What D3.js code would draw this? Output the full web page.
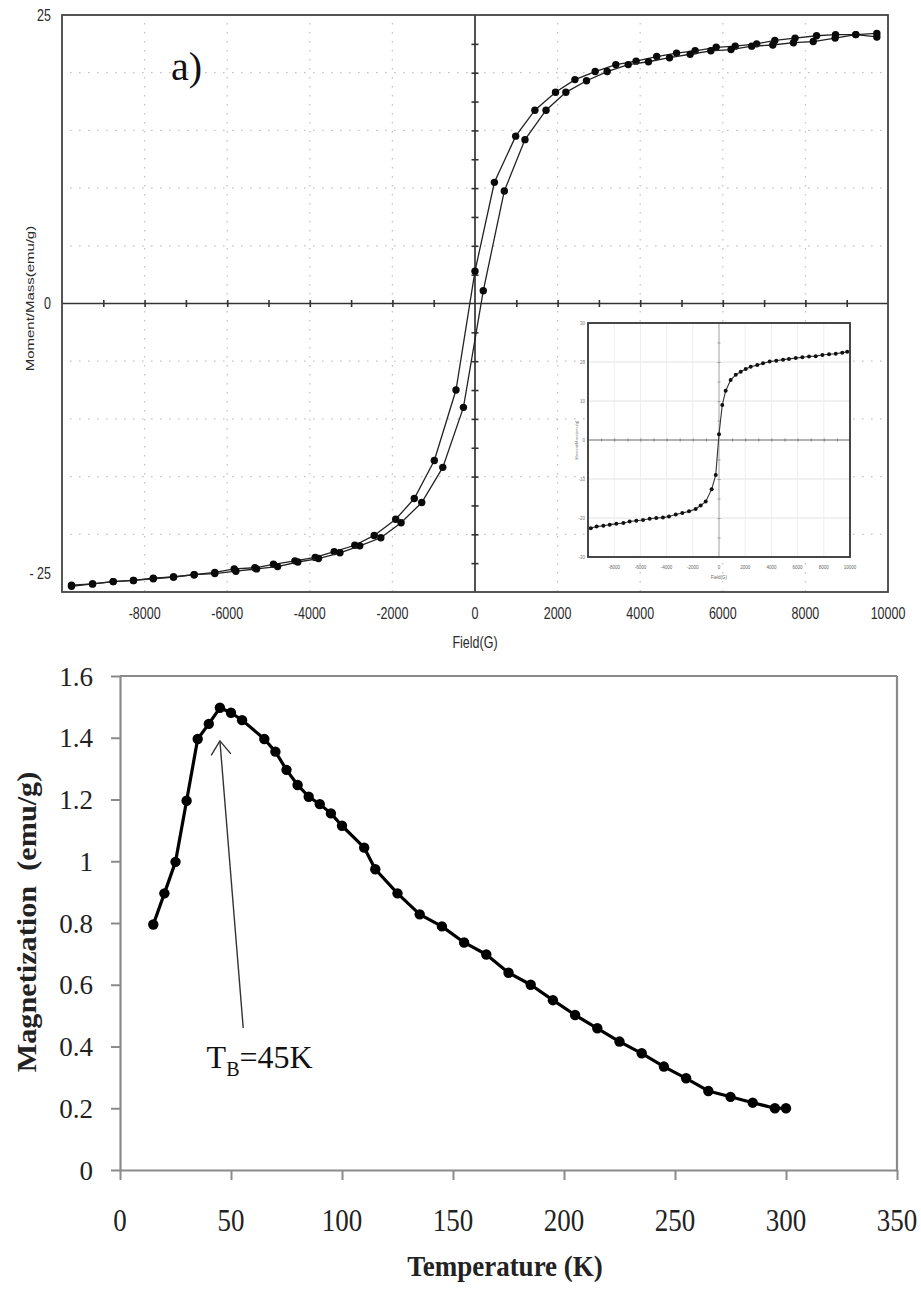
<!DOCTYPE html>
<html><head><meta charset="utf-8">
<script src="https://cdn.jsdelivr.net/npm/d3@7"></script>
<style>
html,body{margin:0;padding:0;background:#fff;}
svg{display:block;}
</style></head><body>
<svg id="chart" width="921" height="1290"></svg>
<script>
// ================= DATA: panel a) hysteresis loop =================
// descending branch (from +saturation to -saturation)
const descField  = [9730, 9220, 8730, 8270, 7750, 7260, 6820, 6300, 5840, 5330, 4880, 4400, 3900, 3410, 2910, 2420, 1950, 1450, 985, 470, 0, -460, -985, -1470, -1920, -2440, -2910, -3410, -3870, -4360, -4880, -5330, -5830, -6300, -6800, -7300, -7790, -8270, -8760, -9260, -9770];
const descMoment = [23.4, 23.3, 23.3, 23.2, 23.0, 22.8, 22.5, 22.3, 22.2, 21.9, 21.7, 21.4, 21.0, 20.7, 20.1, 19.4, 18.3, 16.75, 14.5, 10.5, 2.8, -7.5, -13.6, -16.9, -18.7, -20.1, -20.95, -21.5, -22.0, -22.3, -22.6, -22.9, -23.0, -23.3, -23.5, -23.7, -23.8, -24.0, -24.1, -24.3, -24.4];
// ascending branch (from -saturation to +saturation)
const ascField  = [-9770, -9260, -8760, -8270, -7790, -7300, -6800, -6300, -5790, -5290, -4780, -4290, -3790, -3270, -2790, -2280, -1790, -1290, -780, -280, 200, 710, 1210, 1720, 2200, 2700, 3200, 3710, 4200, 4710, 5210, 5710, 6200, 6700, 7210, 7710, 8190, 8720, 9220, 9730];
const ascMoment = [-24.5, -24.3, -24.1, -24.0, -23.85, -23.7, -23.5, -23.4, -23.2, -23.0, -22.8, -22.4, -22.1, -21.6, -21.0, -20.3, -19.0, -17.25, -14.2, -9.0, 1.1, 9.75, 14.2, 16.75, 18.3, 19.3, 20.1, 20.7, 20.95, 21.3, 21.6, 21.9, 22.0, 22.3, 22.4, 22.6, 22.7, 23.0, 23.3, 23.1];
// inset curve
const insetField  = [-9790, -9340, -8830, -8340, -7840, -7300, -6820, -6310, -5800, -5290, -4790, -4280, -3820, -3300, -2800, -2290, -1780, -1400, -1015, -560, -250, 0, 250, 510, 890, 1280, 1660, 2040, 2420, 2920, 3360, 3870, 4370, 4890, 5340, 5860, 6360, 6870, 7380, 7890, 8400, 8910, 9410, 9790];
const insetMoment = [-22.6, -22.2, -22.0, -21.7, -21.5, -21.3, -20.9, -20.7, -20.5, -20.2, -20.0, -19.9, -19.6, -19.1, -18.7, -18.3, -17.7, -16.8, -15.8, -12.6, -9.0, 1.5, 9.0, 12.6, 15.4, 16.7, 17.5, 18.2, 18.8, 19.2, 19.7, 20.1, 20.3, 20.6, 20.8, 21.0, 21.2, 21.4, 21.5, 21.8, 22.0, 22.1, 22.4, 22.6];
const topXTicks = [-8000, -6000, -4000, -2000, 0, 2000, 4000, 6000, 8000, 10000];
const topYTicks = [25, 0, -25];
const topYTickLabels = ["25", "0", "- 25"];
const insetXTicks = [-8000, -6000, -4000, -2000, 0, 2000, 4000, 6000, 8000, 10000];
const insetYTicks = [30, 20, 10, 0, -10, -20, -30];

// ================= DATA: M vs T =================
const temps  = [15, 20, 25, 30, 35, 40, 45, 50, 55, 65, 70, 75, 80, 85, 90, 95, 100, 110, 115, 125, 135, 145, 155, 165, 175, 185, 195, 205, 215, 225, 235, 245, 255, 265, 275, 285, 295, 300];
const magnet = [0.795, 0.896, 0.998, 1.196, 1.396, 1.445, 1.497, 1.481, 1.457, 1.396, 1.355, 1.296, 1.247, 1.209, 1.185, 1.155, 1.115, 1.044, 0.974, 0.896, 0.828, 0.789, 0.737, 0.698, 0.639, 0.600, 0.550, 0.502, 0.459, 0.416, 0.378, 0.335, 0.297, 0.256, 0.237, 0.218, 0.200, 0.200];
const bottomXTicks = [0, 50, 100, 150, 200, 250, 300, 350];
const bottomYTicks = [0, 0.2, 0.4, 0.6, 0.8, 1, 1.2, 1.4, 1.6];
const bottomYTickLabels = ["0", "0.2", "0.4", "0.6", "0.8", "1", "1.2", "1.4", "1.6"];
const tbArrowTip  = [45, 1.39];
const tbArrowTail = [55.5, 0.46];
const tbLabelPos  = [39, 0.33];

// ================= DRAWING =================
const svg = d3.select("#chart");
const SANS = "'Liberation Sans', Arial, sans-serif";
const SERIF = "'Liberation Serif', 'Times New Roman', serif";

// ---------- Panel a) ----------
const T = {l: 62, r: 888, t: 15, b: 592};
const xTop = d3.scaleLinear().domain([-10000, 10000]).range([T.l, T.r]);
const yTop = d3.scaleLinear().domain([-25, 25]).range([T.b, T.t]);
const gTop = svg.append("g");

const gridY = d3.range(-20, 21, 5).filter(v => v !== 0);
const gridX = d3.range(-8000, 8001, 2000).filter(v => v !== 0);
gTop.selectAll("line.hg").data(gridY).join("line").attr("class", "hg")
  .attr("x1", T.l + 8).attr("x2", T.r).attr("y1", d => yTop(d)).attr("y2", d => yTop(d))
  .attr("stroke", "#c4c4c4").attr("stroke-width", 1.3).attr("stroke-dasharray", "1.6,7.4");
gTop.selectAll("line.vg").data(gridX).join("line").attr("class", "vg")
  .attr("x1", d => xTop(d)).attr("x2", d => xTop(d)).attr("y1", T.t + 8).attr("y2", T.b)
  .attr("stroke", "#c4c4c4").attr("stroke-width", 1.3).attr("stroke-dasharray", "1.6,7.4");

// zero axes with crossing ticks
gTop.append("line").attr("x1", T.l).attr("x2", T.r).attr("y1", yTop(0)).attr("y2", yTop(0))
  .attr("stroke", "#333").attr("stroke-width", 1.7);
gTop.append("line").attr("x1", xTop(0)).attr("x2", xTop(0)).attr("y1", T.t).attr("y2", T.b)
  .attr("stroke", "#333").attr("stroke-width", 1.7);
const hTicks = d3.axisBottom(xTop).tickValues(d3.range(-9000, 10000, 1000).filter(v => v !== 0)).tickSize(7).tickFormat("");
gTop.append("g").attr("transform", `translate(0,${yTop(0) - 3.5})`).call(hTicks)
  .call(g => g.select(".domain").remove())
  .call(g => g.selectAll("line").attr("stroke", "#333").attr("stroke-width", 1.6));
const vTicks = d3.axisRight(yTop).tickValues(d3.range(-22.5, 25, 2.5).filter(v => v !== 0)).tickSize(7).tickFormat("");
gTop.append("g").attr("transform", `translate(${xTop(0) - 3.5},0)`).call(vTicks)
  .call(g => g.select(".domain").remove())
  .call(g => g.selectAll("line").attr("stroke", "#333").attr("stroke-width", 1.6));

// curves
const descData = descField.map((f, i) => [f, descMoment[i]]);
const ascData = ascField.map((f, i) => [f, ascMoment[i]]);
const topLine = d3.line().x(d => xTop(d[0])).y(d => yTop(d[1]));
[descData, ascData].forEach(data => {
  gTop.append("path").datum(data).attr("d", topLine)
    .attr("fill", "none").attr("stroke", "#222").attr("stroke-width", 1.3);
  gTop.selectAll(null).data(data).join("circle")
    .attr("cx", d => xTop(d[0])).attr("cy", d => yTop(d[1])).attr("r", 3.7).attr("fill", "#0a0a0a");
});

// frame
gTop.append("rect").attr("x", T.l).attr("y", T.t).attr("width", T.r - T.l).attr("height", T.b - T.t)
  .attr("fill", "none").attr("stroke", "#444").attr("stroke-width", 1.8);

// ---------- Inset ----------
const I = {l: 588, r: 850, t: 323, b: 557};
const xIn = d3.scaleLinear().domain([-10000, 10000]).range([I.l, I.r]);
const yIn = d3.scaleLinear().domain([-30, 30]).range([I.b, I.t]);
const gIn = svg.append("g");
gIn.append("rect").attr("x", I.l).attr("y", I.t).attr("width", I.r - I.l).attr("height", I.b - I.t).attr("fill", "#fff");
gIn.selectAll("line.ig").data(insetYTicks.filter(v => Math.abs(v) !== 30 && v !== 0)).join("line").attr("class", "ig")
  .attr("x1", I.l).attr("x2", I.r).attr("y1", d => yIn(d)).attr("y2", d => yIn(d))
  .attr("stroke", "#e2e2e2").attr("stroke-width", 1);
gIn.selectAll("line.igv").data(insetXTicks.filter(v => v !== 0 && v !== 10000)).join("line").attr("class", "igv")
  .attr("x1", d => xIn(d)).attr("x2", d => xIn(d)).attr("y1", I.t).attr("y2", I.b)
  .attr("stroke", "#eeeeee").attr("stroke-width", 1);
gIn.append("line").attr("x1", I.l).attr("x2", I.r).attr("y1", yIn(0)).attr("y2", yIn(0)).attr("stroke", "#999").attr("stroke-width", 1.3);
gIn.append("line").attr("x1", xIn(0)).attr("x2", xIn(0)).attr("y1", I.t).attr("y2", I.b).attr("stroke", "#aaa").attr("stroke-width", 1.1);
gIn.append("g").attr("transform", `translate(0,${yIn(0) - 1.5})`)
  .call(d3.axisBottom(xIn).tickValues(d3.range(-9000, 10000, 1000).filter(v => v !== 0)).tickSize(3).tickFormat(""))
  .call(g => g.select(".domain").remove())
  .call(g => g.selectAll("line").attr("stroke", "#888").attr("stroke-width", 1.2));
gIn.append("g").attr("transform", `translate(${xIn(0) - 1.5},0)`)
  .call(d3.axisRight(yIn).tickValues(d3.range(-25, 30, 5).filter(v => v !== 0)).tickSize(3).tickFormat(""))
  .call(g => g.select(".domain").remove())
  .call(g => g.selectAll("line").attr("stroke", "#999").attr("stroke-width", 1));
const insetData = insetField.map((f, i) => [f, insetMoment[i]]);
gIn.append("path").datum(insetData)
  .attr("d", d3.line().x(d => xIn(d[0])).y(d => yIn(d[1])))
  .attr("fill", "none").attr("stroke", "#333").attr("stroke-width", 1.1);
gIn.selectAll("circle").data(insetData).join("circle")
  .attr("cx", d => xIn(d[0])).attr("cy", d => yIn(d[1])).attr("r", 2).attr("fill", "#111");
gIn.append("rect").attr("x", I.l).attr("y", I.t).attr("width", I.r - I.l).attr("height", I.b - I.t)
  .attr("fill", "none").attr("stroke", "#333").attr("stroke-width", 1.8);
gIn.selectAll("text.ixl").data(insetXTicks).join("text").attr("class", "ixl")
  .attr("x", d => xIn(d)).attr("y", I.b + 12).attr("text-anchor", "middle")
  .attr("font-family", SANS).attr("font-size", 4.5).attr("fill", "#666").text(d => d);
gIn.selectAll("text.iyl").data(insetYTicks).join("text").attr("class", "iyl")
  .attr("x", I.l - 3).attr("y", d => yIn(d) + 1.5).attr("text-anchor", "end")
  .attr("font-family", SANS).attr("font-size", 4.5).attr("fill", "#777").text(d => d);
gIn.append("text").attr("x", xIn(0)).attr("y", I.b + 22).attr("text-anchor", "middle")
  .attr("font-family", SANS).attr("font-size", 4.5).attr("fill", "#666").text("Field(G)");
gIn.append("text").attr("transform", `translate(${I.l - 10},${yIn(0)}) rotate(-90)`).attr("text-anchor", "middle")
  .attr("font-family", SANS).attr("font-size", 4).attr("fill", "#777").text("Moment/Mass(emu/g)");

// ---------- Panel a) text ----------
const STY = 1.3;
gTop.selectAll("text.xl").data(topXTicks).join("text").attr("class", "xl")
  .attr("transform", d => `translate(${xTop(d)},613) scale(1,${STY})`)
  .attr("text-anchor", "middle").attr("dominant-baseline", "central")
  .attr("font-family", SANS).attr("font-size", 12.5).attr("fill", "#2a2a2a").text(d => d);
gTop.selectAll("text.yl").data(topYTicks).join("text").attr("class", "yl")
  .attr("transform", (d, i) => `translate(51,${yTop(d) + (d === -25 ? -19 : 0)}) scale(1,${STY})`)
  .attr("text-anchor", "end").attr("dominant-baseline", "central")
  .attr("font-family", SANS).attr("font-size", 12.5).attr("fill", "#2a2a2a").text((d, i) => topYTickLabels[i]);
gTop.append("text").attr("transform", `translate(${xTop(0)},642) scale(1,${STY})`)
  .attr("text-anchor", "middle").attr("dominant-baseline", "central")
  .attr("font-family", SANS).attr("font-size", 12.5).attr("fill", "#2a2a2a").text("Field(G)");
gTop.append("text").attr("transform", `translate(30,${yTop(0) - 5}) rotate(-90) scale(${STY},1)`)
  .attr("text-anchor", "middle").attr("dominant-baseline", "central")
  .attr("font-family", SANS).attr("font-size", 11.5).attr("fill", "#2a2a2a").text("Moment/Mass(emu/g)");
gTop.append("text").attr("x", 171).attr("y", 80)
  .attr("font-family", SERIF).attr("font-size", 40).attr("fill", "#111").text("a)");

// ---------- Panel M vs T ----------
const B = {l: 120, r: 897, t: 676, b: 1170};
const xB = d3.scaleLinear().domain([0, 350]).range([B.l, B.r]);
const yB = d3.scaleLinear().domain([0, 1.6]).range([B.b, B.t]);
const gB = svg.append("g");
const AX = "#8a8a8a";
gB.append("line").attr("x1", B.l).attr("x2", B.r).attr("y1", B.t).attr("y2", B.t).attr("stroke", AX).attr("stroke-width", 2.2);
gB.append("line").attr("x1", B.r).attr("x2", B.r).attr("y1", B.t).attr("y2", B.b).attr("stroke", AX).attr("stroke-width", 2.2);
gB.append("g").attr("transform", `translate(${B.l},0)`)
  .call(d3.axisLeft(yB).tickValues(bottomYTicks).tickSize(9).tickSizeOuter(0).tickPadding(18).tickFormat((d, i) => bottomYTickLabels[i]))
  .call(g => g.select(".domain").attr("stroke", AX).attr("stroke-width", 2.2))
  .call(g => g.selectAll(".tick line").attr("stroke", AX).attr("stroke-width", 2))
  .call(g => g.selectAll(".tick text").attr("font-family", SERIF).attr("font-size", 27).attr("fill", "#222").attr("dy", "0.34em"));
gB.append("g").attr("transform", `translate(0,${B.b})`)
  .call(d3.axisBottom(xB).tickValues(bottomXTicks).tickSize(10).tickSizeOuter(0).tickFormat(""))
  .call(g => g.select(".domain").attr("stroke", AX).attr("stroke-width", 2.2))
  .call(g => g.selectAll(".tick line").attr("stroke", AX).attr("stroke-width", 2));
gB.selectAll("text.bxl").data(bottomXTicks).join("text").attr("class", "bxl")
  .attr("transform", d => `translate(${xB(d)},1220) scale(1,1.15)`)
  .attr("text-anchor", "middle").attr("dominant-baseline", "central")
  .attr("font-family", SERIF).attr("font-size", 27).attr("fill", "#222").text(d => d);

// curve
const mtData = temps.map((t, i) => [t, magnet[i]]);
gB.append("path").datum(mtData)
  .attr("d", d3.line().x(d => xB(d[0])).y(d => yB(d[1])))
  .attr("fill", "none").attr("stroke", "#000").attr("stroke-width", 3.2).attr("stroke-linejoin", "round");
gB.selectAll("circle").data(mtData).join("circle")
  .attr("cx", d => xB(d[0])).attr("cy", d => yB(d[1])).attr("r", 5.2).attr("fill", "#000");

// annotation arrow
const tip = [xB(tbArrowTip[0]), yB(tbArrowTip[1])];
const tail = [xB(tbArrowTail[0]), yB(tbArrowTail[1])];
gB.append("line").attr("x1", tail[0]).attr("y1", tail[1]).attr("x2", tip[0]).attr("y2", tip[1])
  .attr("stroke", "#333").attr("stroke-width", 1.4);
const ang = Math.atan2(tail[1] - tip[1], tail[0] - tip[0]);
const wl = 17, wa = 0.62;
const wing = s => [tip[0] + wl * Math.cos(ang + s * wa), tip[1] + wl * Math.sin(ang + s * wa)];
gB.append("path").attr("d", d3.line()([wing(1), tip, wing(-1)]))
  .attr("fill", "none").attr("stroke", "#333").attr("stroke-width", 1.4);
const tb = gB.append("text").attr("x", xB(tbLabelPos[0])).attr("y", yB(tbLabelPos[1]))
  .attr("font-family", SERIF).attr("font-size", 32).attr("fill", "#111");
tb.append("tspan").text("T");
tb.append("tspan").attr("font-size", 20).attr("dy", 8).text("B");
tb.append("tspan").attr("dy", -8).text("=45K");

// axis titles
gB.append("text").attr("transform", `translate(27,922) rotate(-90) scale(1.12,1)`)
  .attr("text-anchor", "middle").attr("dominant-baseline", "central")
  .attr("font-family", SERIF).attr("font-weight", "bold").attr("font-size", 27).attr("fill", "#222")
  .attr("xml:space", "preserve").style("white-space", "pre").text("Magnetization  (emu/g)");
gB.append("text").attr("transform", `translate(505,1266) scale(1,1.1)`)
  .attr("text-anchor", "middle").attr("dominant-baseline", "central")
  .attr("font-family", SERIF).attr("font-weight", "bold").attr("font-size", 27).attr("fill", "#222")
  .text("Temperature (K)");
</script>
</body></html>
